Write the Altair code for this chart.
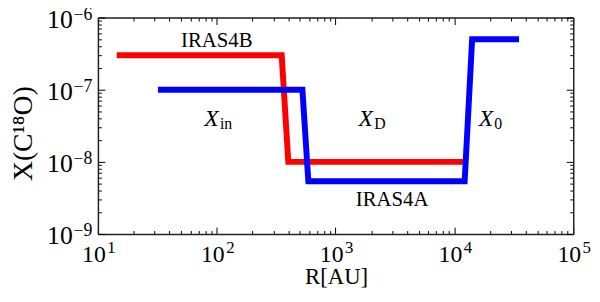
import altair as alt
import pandas as pd

# ---- data ----
red_r = [14.4, 352, 400, 12500]
red_x = [3e-7, 3e-7, 1e-8, 1e-8]
blue_r = [32, 526, 590, 12200, 14100, 35000]
blue_x = [1e-7, 1e-7, 5.4e-9, 5.4e-9, 5e-7, 5e-7]

name_labels = ["IRAS4B", "IRAS4A"]
name_r = [100, 2990]
name_x = [3.88e-7, 2.44e-9]

sym_main = ["X", "X", "X"]
sym_sub = ["in", "D", "0"]
sym_r = [90.4, 1795, 18400]
sym_x = [3.11e-8, 3.11e-8, 3.11e-8]

x_major = [10, 100, 1000, 10000, 100000]
x_exp_labels = ["1", "2", "3", "4", "5"]
y_major = [1e-9, 1e-8, 1e-7, 1e-6]
y_exp_labels = ["−9", "−8", "−7", "−6"]
minor_mult = [2, 3, 4, 5, 6, 7, 8, 9]

x_ticks = sorted(x_major + [m * d for d in x_major[:-1] for m in minor_mult])
y_ticks = sorted(y_major + [m * d for d in y_major[:-1] for m in minor_mult])

FONT = "'Liberation Serif', 'DejaVu Serif', serif"


def label_expr(vals, labs):
    s = "".join(f"datum.value == {v} ? '{l}' : " for v, l in zip(vals, labs))
    return s + "''"


def major_test(vals):
    return "indexof([" + ",".join(str(v) for v in vals) + "], datum.value) >= 0"


xscale = alt.Scale(type="log", domain=[10, 100000], nice=False)
yscale = alt.Scale(type="log", domain=[1e-9, 1e-6], nice=False)

frame = dict(domainColor="#222", domainWidth=1.5, tickColor="black", tickWidth=1,
             grid=False, labels=False, title=None)
label_only = dict(ticks=False, tickSize=0, domain=False, grid=False,
                  labelFlush=False, labelOverlap=False, labelColor="black",
                  labelFont=FONT, labelBaseline="alphabetic")


def tick_size(vals):
    return {"condition": {"test": major_test(vals), "value": -7}, "value": -3.5}


# tick-only axes (frame, inward ticks)
x_bottom_ticks = alt.Axis(orient="bottom", values=x_ticks, tickSize=tick_size(x_major), **frame)
x_top_ticks = alt.Axis(orient="top", values=x_ticks, tickSize=tick_size(x_major), **frame)
y_left_ticks = alt.Axis(orient="left", values=y_ticks, tickSize=tick_size(y_major), **frame)
y_right_ticks = alt.Axis(orient="right", values=y_ticks, tickSize=tick_size(y_major), **frame)

# base "10" label axes (with titles)
x_base = alt.Axis(
    orient="bottom", values=x_major, labelExpr="'10'", labelFontSize=24,
    labelAlign="right", labelOffset=7.5, labelPadding=28,
    title="R[AU]", titleFont=FONT, titleFontSize=23, titleFontWeight="normal",
    titleColor="black", titleX=241, titleY=50, titleAlign="center", titleBaseline="alphabetic",
    **label_only,
)
y_base = alt.Axis(
    orient="left", values=y_major, labelExpr="'10'", labelFontSize=26,
    labelAlign="right", labelOffset=10, labelPadding=26,
    title="X(C¹⁸O)", titleFont=FONT, titleFontSize=28, titleFontWeight="normal",
    titleColor="black", titleX=-67, titleY=117, titleAngle=270, titleAlign="center",
    titleBaseline="alphabetic",
    **label_only,
)
# exponent label axes
x_exp = alt.Axis(
    orient="bottom", values=x_major, labelExpr=label_expr(x_major, x_exp_labels), labelFontSize=17,
    labelAlign="left", labelOffset=9, labelPadding=18.5, title=None, **label_only,
)
y_exp = alt.Axis(
    orient="left", values=y_major, labelExpr=label_expr(y_major, y_exp_labels), labelFontSize=18,
    labelAlign="right", labelOffset=2, labelPadding=6, title=None, **label_only,
)

red_df = pd.DataFrame({"r": red_r, "x": red_x, "o": range(len(red_r))})
blue_df = pd.DataFrame({"r": blue_r, "x": blue_x, "o": range(len(blue_r))})
name_df = pd.DataFrame({"r": name_r, "x": name_x, "t": name_labels})
sym_df = pd.DataFrame({"r": sym_r, "x": sym_x, "m": sym_main, "s": sym_sub})

red = alt.Chart(red_df).mark_line(color="#ff0000", strokeWidth=6, strokeJoin="miter").encode(
    x=alt.X("r:Q", scale=xscale, axis=x_bottom_ticks),
    y=alt.Y("x:Q", scale=yscale, axis=y_left_ticks),
    order="o:Q",
)
blue = alt.Chart(blue_df).mark_line(color="#0000ff", strokeWidth=6, strokeJoin="miter").encode(
    x=alt.X("r:Q", scale=xscale, axis=x_top_ticks),
    y=alt.Y("x:Q", scale=yscale, axis=y_right_ticks),
    order="o:Q",
)
names = alt.Chart(name_df).mark_text(font=FONT, fontSize=21, color="black", align="center", baseline="alphabetic").encode(
    x=alt.X("r:Q", scale=xscale, axis=x_base),
    y=alt.Y("x:Q", scale=yscale, axis=y_base),
    text="t:N",
)
sym_main_t = alt.Chart(sym_df).mark_text(font=FONT, fontSize=24, fontStyle="italic", color="black", align="center", baseline="alphabetic").encode(
    x=alt.X("r:Q", scale=xscale, axis=x_exp),
    y=alt.Y("x:Q", scale=yscale, axis=y_exp),
    text="m:N",
)
sym_sub_t = alt.Chart(sym_df).mark_text(font=FONT, fontSize=16, color="black", align="left", baseline="alphabetic", dx=8.5, dy=3).encode(
    x=alt.X("r:Q", scale=xscale, axis=None),
    y=alt.Y("x:Q", scale=yscale, axis=None),
    text="s:N",
)

chart = alt.layer(red, blue, names, sym_main_t, sym_sub_t).resolve_axis(
    x="independent", y="independent"
).properties(
    width=481, height=219,
    autosize=alt.AutoSizeParams(type="none"),
    padding={"left": 91, "top": 8, "right": 19, "bottom": 59},
).configure_view(stroke="#222", strokeWidth=1.5).configure(background="white")

chart.save("out.html", embed_options={"renderer": "svg", "actions": False})
